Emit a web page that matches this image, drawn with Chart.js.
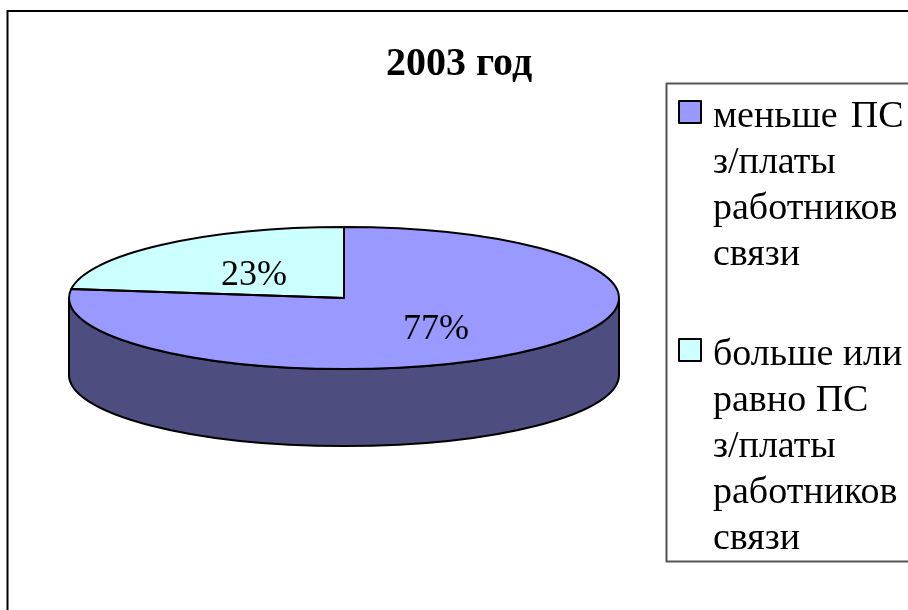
<!DOCTYPE html>
<html>
<head>
<meta charset="utf-8">
<style>
html,body{margin:0;padding:0;background:#fff;overflow:hidden}
#w{position:absolute;left:0;top:0;width:908px;height:610px}
</style>
<script src="https://cdn.jsdelivr.net/npm/chart.js@4"></script>
</head>
<body>
<div id="w"><canvas id="c" width="908" height="610"></canvas></div>
<script>
const titleText = "2003 год";
const categories = ["меньше  ПС з/платы работников связи", "больше или равно ПС з/платы работников связи"];
const values = [77, 23];
const legendLines = [
  ["меньше  ПС", "з/платы", "работников", "связи"],
  ["больше или", "равно ПС", "з/платы", "работников", "связи"]
];
const topColors = ["#9999ff", "#ccffff"];
const sideColors = ["#4d4d80", "#668080"];

const SERIF = '"Liberation Serif","Times New Roman",serif';
const TILT = 71 / 275, DEPTH = 77;

function ell(ctx, x, y, r, a, b, ccw) {
  ctx.ellipse(x, y, r, r * TILT, 0, a, b, !!ccw);
}

const pie3d = {
  id: "pie3d",
  beforeDraw(chart) {
    const ctx = chart.ctx;
    ctx.save();
    ctx.fillStyle = "#fff";
    ctx.fillRect(0, 0, 908, 610);
    ctx.strokeStyle = "#000";
    ctx.lineWidth = 2;
    ctx.beginPath();
    ctx.moveTo(7.5, 612);
    ctx.lineTo(7.5, 11);
    ctx.lineTo(912, 11);
    ctx.stroke();
    ctx.restore();
  },
  beforeDatasetsDraw(chart) {
    const ctx = chart.ctx;
    const arcs = chart.getDatasetMeta(0).data;
    ctx.save();
    ctx.lineWidth = 2;
    ctx.strokeStyle = "#000";
    arcs.forEach((el, i) => {
      const a = Math.max(el.startAngle, 0), b = Math.min(el.endAngle, Math.PI);
      if (b <= a) return;
      ctx.beginPath();
      ell(ctx, el.x, el.y, el.outerRadius, a, b);
      ell(ctx, el.x, el.y + DEPTH, el.outerRadius, b, a, true);
      ctx.closePath();
      ctx.fillStyle = sideColors[i];
      ctx.fill();
      ctx.stroke();
    });
    ctx.restore();
    const el = arcs[0];
    ctx.save();
    ctx.translate(el.x, el.y);
    ctx.scale(1, TILT);
    ctx.translate(-el.x, -el.y);
  },
  afterDatasetsDraw(chart) {
    const ctx = chart.ctx;
    ctx.restore();
    const arcs = chart.getDatasetMeta(0).data;
    ctx.save();
    ctx.lineWidth = 2;
    ctx.strokeStyle = "#000";
    ctx.lineJoin = "round";
    arcs.forEach((el) => {
      ctx.beginPath();
      ctx.moveTo(el.x, el.y);
      ell(ctx, el.x, el.y, el.outerRadius, el.startAngle, el.endAngle);
      ctx.closePath();
      ctx.stroke();
    });
    ctx.fillStyle = "#000";
    ctx.font = "36px " + SERIF;
    ctx.textAlign = "center";
    ctx.textBaseline = "alphabetic";
    arcs.forEach((el, i) => {
      const p = el.getCenterPoint();
      ctx.fillText(values[i] + "%", p.x + 1, el.y + (p.y - el.y) * TILT + 14);
    });
    ctx.font = "bold 40px " + SERIF;
    ctx.fillText(titleText, 459, 75);
    ctx.strokeStyle = "#555";
    ctx.lineWidth = 2;
    ctx.beginPath();
    ctx.moveTo(912, 83.5);
    ctx.lineTo(666.5, 83.5);
    ctx.lineTo(666.5, 561.5);
    ctx.lineTo(912, 561.5);
    ctx.stroke();
    const swatchY = [101, 339], baseY = [127, 365];
    ctx.textAlign = "left";
    ctx.font = "38px " + SERIF;
    legendLines.forEach((lines, i) => {
      ctx.fillStyle = topColors[i];
      ctx.strokeStyle = "#000";
      ctx.lineWidth = 2;
      ctx.fillRect(679, swatchY[i], 22, 22);
      ctx.strokeRect(679, swatchY[i], 22, 22);
      ctx.fillStyle = "#000";
      lines.forEach((t, k) => {
        ctx.wordSpacing = t.includes("  ") ? "-3px" : "0px";
        ctx.fillText(t, 713, baseY[i] + k * 46);
      });
    });
    ctx.restore();
  }
};

new Chart(document.getElementById("c"), {
  type: "pie",
  data: {
    labels: categories,
    datasets: [{ data: values, backgroundColor: topColors, borderWidth: 0 }]
  },
  options: {
    responsive: false,
    animation: false,
    layout: { padding: { left: 69, right: 289, top: 23, bottom: 37 } },
    plugins: { legend: { display: false }, title: { display: false }, tooltip: { enabled: false } }
  },
  plugins: [pie3d]
});
</script>
</body>
</html>
